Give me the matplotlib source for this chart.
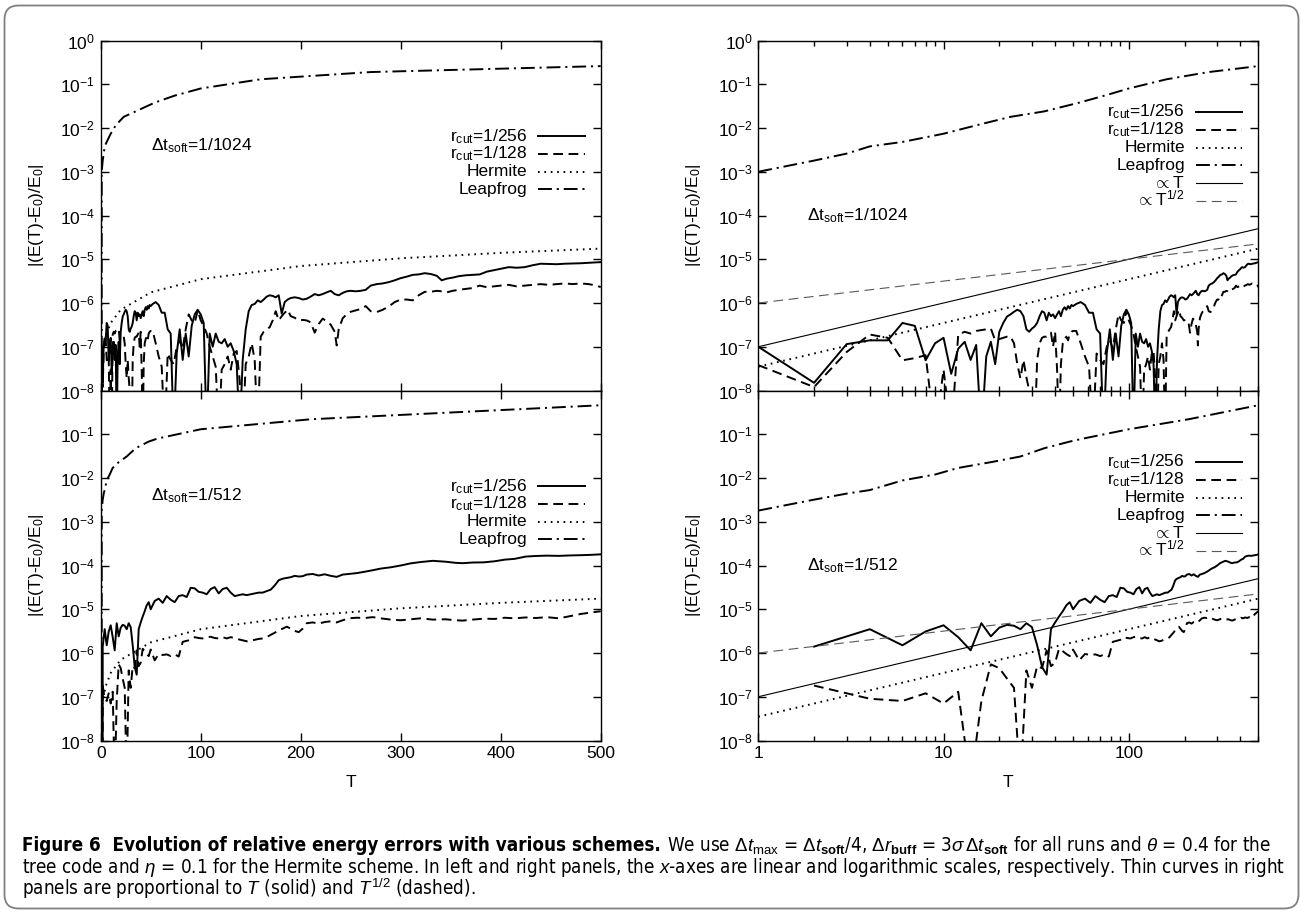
import numpy as np
import matplotlib
matplotlib.use('Agg')
import matplotlib.pyplot as plt
import matplotlib.ticker as mticker
from matplotlib import font_manager
from matplotlib.lines import Line2D
from matplotlib.patches import FancyBboxPatch
from matplotlib.transforms import IdentityTransform

plt.rcParams['font.family'] = ['Liberation Sans', 'DejaVu Sans']
plt.rcParams['mathtext.fontset'] = 'custom'
plt.rcParams['mathtext.rm'] = 'Liberation Sans'
plt.rcParams['mathtext.it'] = 'Liberation Sans:italic'
plt.rcParams['mathtext.bf'] = 'Liberation Sans:bold'
plt.rcParams['mathtext.sf'] = 'Liberation Sans'
plt.rcParams['lines.scale_dashes'] = False
plt.rcParams['axes.linewidth'] = 1.0

# ---------------- data ----------------
# dt_soft = 1/1024 : sampled every 1 up to T=50, then every 3 up to 178, then tail
t_1024 = np.r_[np.arange(0, 51), np.arange(52, 179, 3),
               [181, 184, 187, 190, 194, 198, 202, 206, 210, 214,
                218, 222, 226, 230, 234, 236, 238, 242, 246, 250,
                255, 260, 265, 270, 276, 282, 288, 294, 300, 306,
                312, 318, 324, 330, 336, 341, 346, 352, 358, 365,
                372, 379, 386, 393, 400, 408, 416, 424, 432, 440,
                448, 456, 464, 472, 480, 488, 496, 500]]

r256_1024 = [
    0, 1.0e-7, 1.5e-8, 1.15e-7, 1.4e-7, 1.4e-7, 3.5e-7, 3.0e-7, 4.9e-8, 1.2e-7, 1.6e-7,
    2.4e-8, 9e-8, 1.3e-7, 5e-8, 1.1e-7, 1e-9, 6e-8, 1.3e-7, 4e-8, 2.2e-7,
    3.5e-7, 4.9e-7, 5.5e-7, 6.3e-7, 7.0e-7, 6.5e-7, 5e-7, 2.5e-7, 2.2e-7, 2.6e-7,
    2.9e-7, 3.5e-7, 5e-7, 6.5e-7, 6e-7, 4e-7, 6e-7, 5e-7, 5.5e-7, 4.5e-7,
    5.5e-7, 6.5e-7, 5e-7, 7e-7, 8e-7, 7e-7, 8.5e-7, 7.5e-7, 9e-7, 8.5e-7,
    9.5e-7, 1.05e-6, 9e-7, 6e-7, 6e-7, 2.5e-7, 2e-7, 1e-9, 7e-8, 2.5e-7,
    5e-8, 2e-7, 6e-8, 3e-7, 5.5e-7, 7e-7, 5.5e-7, 3.5e-7, 1e-9, 2e-7,
    1e-7, 2e-7, 1.3e-7, 1.2e-7, 1.5e-7, 1e-7, 1.2e-7, 8e-8, 4e-8, 1e-9,
    5e-8, 2.5e-7, 6.5e-7, 9e-7, 9.5e-7, 1.15e-6, 1.05e-6, 1.2e-6, 1.4e-6, 1.5e-6,
    1.45e-6, 1.35e-6, 1.5e-6,
    5.7e-7, 1.05e-6, 1.2e-6, 1.3e-6, 1.35e-6, 1.3e-6, 1.2e-6, 1.25e-6, 1.4e-6, 1.6e-6,
    1.5e-6, 1.6e-6, 1.75e-6, 1.9e-6, 1.6e-6, 1.55e-6, 1.5e-6, 1.7e-6, 1.85e-6, 1.9e-6,
    1.85e-6, 1.9e-6, 2.0e-6, 2.5e-6, 2.7e-6, 2.8e-6, 3.0e-6, 3.3e-6, 3.7e-6, 4.0e-6,
    4.4e-6, 4.5e-6, 4.8e-6, 4.6e-6, 4.2e-6, 3.3e-6, 3.6e-6, 3.8e-6, 4.1e-6, 4.3e-6,
    4.4e-6, 4.5e-6, 5.2e-6, 5.6e-6, 6.0e-6, 6.6e-6, 6.4e-6, 6.6e-6, 7.3e-6, 7.9e-6,
    7.8e-6, 7.7e-6, 7.9e-6, 8.0e-6, 8.1e-6, 8.3e-6, 8.5e-6, 8.6e-6]

r128_1024 = [
    0, 3.8e-8, 1.2e-8, 7.6e-8, 1.9e-7, 1.6e-7, 4.9e-8, 5.5e-8, 6.4e-8, 1e-9, 3e-8,
    1e-9, 1.9e-7, 2.2e-7, 2e-7, 2.3e-7, 2.4e-7, 2.5e-7, 2.6e-7, 1.4e-7, 1.5e-7,
    1.6e-7, 1.7e-7, 1.7e-7, 1.2e-7, 4e-8, 1.9e-8, 5e-8, 2e-8, 1e-8, 1e-9,
    1e-9, 5e-8, 1.2e-7, 1.6e-7, 1.7e-7, 1.7e-7, 1.9e-7, 2.1e-7, 1e-7, 2.2e-7,
    3e-8, 1e-9, 4e-8, 1.2e-7, 1.5e-7, 1.7e-7, 1.4e-7, 2e-7, 2.2e-7, 2.3e-7,
    2.3e-7, 1.2e-7, 6e-8, 3.5e-8, 1e-9, 7e-8, 5e-8, 4e-8, 1e-7, 1.4e-7,
    9e-8, 2.5e-7, 5.5e-7, 4e-7, 3.5e-7, 6.8e-7, 4e-7, 3e-7, 2e-7, 1e-7,
    6e-8, 3.5e-8, 1e-9, 3e-8, 4e-8, 6e-8, 3e-8, 7e-8, 8e-8, 1.7e-8,
    1e-9, 4e-8, 6e-8, 1.2e-7, 5e-8, 1e-9, 1.7e-7, 2.2e-7, 2.5e-7, 2.8e-7,
    4e-7, 6.5e-7, 4e-7,
    5e-7, 6e-7, 7e-7, 5e-7, 4.6e-7, 4e-7, 4.1e-7, 4e-7, 3.6e-7, 2.1e-7,
    3.3e-7, 4.4e-7, 3.8e-7, 3.2e-7, 2.2e-7, 1.07e-7, 2.5e-7, 4.5e-7, 5.5e-7, 6.3e-7,
    6.8e-7, 7.3e-7, 8.5e-7, 6.5e-7, 6.2e-7, 7e-7, 8.3e-7, 1.05e-6, 1.2e-6, 1.2e-6,
    1.15e-6, 1.5e-6, 1.8e-6, 1.8e-6, 1.9e-6, 1.85e-6, 1.75e-6, 1.9e-6, 2.0e-6, 2.1e-6,
    2.2e-6, 2.5e-6, 2.3e-6, 2.4e-6, 2.5e-6, 2.6e-6, 2.4e-6, 2.5e-6, 2.6e-6, 2.7e-6,
    2.6e-6, 2.7e-6, 2.8e-6, 2.7e-6, 2.8e-6, 2.7e-6, 2.5e-6, 2.3e-6]

# dt_soft = 1/512 : sampled every 2 up to T=50, then every 4 up to 178, then tail
t_512 = np.r_[np.arange(0, 51, 2), np.arange(54, 179, 4),
              [182, 186, 190, 194, 198, 202, 206, 212, 218, 224,
               230, 236, 242, 248, 256, 264, 272, 280, 290, 300,
               310, 320, 332, 345, 355, 362, 372, 383, 394, 404,
               414, 425, 435, 446, 458, 470, 480, 490, 500]]

r256_512 = [
    0, 1.4e-6, 3.5e-6, 1.5e-6, 3.1e-6, 4.3e-6, 2.3e-6, 1.15e-6, 4.8e-6, 2.4e-6,
    3.8e-6, 4.4e-6, 4.2e-6, 3.5e-6, 4.8e-6, 3.9e-6, 1.5e-6, 4.8e-7, 3.2e-7, 3.5e-6,
    5.0e-6, 6.8e-6, 9.0e-6, 1.23e-5, 1.45e-5, 1.0e-5,
    1.55e-5, 1.75e-5, 1.4e-5, 2.0e-5, 1.65e-5, 1.45e-5, 2.0e-5, 2.1e-5, 1.9e-5, 3.1e-5,
    3.0e-5, 2.5e-5, 2.4e-5, 2.2e-5, 2.9e-5, 3.2e-5, 2.3e-5, 2.9e-5, 3.1e-5, 2.4e-5,
    2.0e-5, 2.1e-5, 2.2e-5, 2.1e-5, 2.2e-5, 2.3e-5, 2.4e-5, 2.4e-5, 2.6e-5, 2.8e-5,
    3.5e-5, 4.6e-5,
    5.0e-5, 5.2e-5, 5.4e-5, 5.8e-5, 5.6e-5, 5.7e-5, 6.2e-5, 6.4e-5, 5.9e-5, 6.3e-5,
    5.8e-5, 5.5e-5, 6.2e-5, 6.4e-5, 6.7e-5, 7.2e-5, 7.8e-5, 8.5e-5, 9.1e-5, 1.0e-4,
    1.12e-4, 1.2e-4, 1.28e-4, 1.22e-4, 1.15e-4, 1.13e-4, 1.17e-4, 1.18e-4, 1.25e-4, 1.36e-4,
    1.42e-4, 1.6e-4, 1.65e-4, 1.68e-4, 1.66e-4, 1.7e-4, 1.72e-4, 1.75e-4, 1.8e-4]

r128_512 = [
    0, 1.8e-7, 9e-8, 8e-8, 1.2e-7, 7e-8, 1.3e-7, 1e-9, 8e-8, 5.5e-7,
    4.5e-7, 2.6e-7, 1.6e-7, 1e-9, 4e-7, 1.6e-7, 5e-7, 4.5e-7, 1.15e-6, 5e-7,
    6e-7, 1.25e-6, 1.1e-6, 9.5e-7, 8.5e-7, 1.2e-6,
    6.8e-7, 9.5e-7, 9e-7, 9.3e-7, 8.5e-7, 9.3e-7, 8.3e-7, 1.8e-6, 1.9e-6, 2.0e-6,
    2.3e-6, 2.2e-6, 2.15e-6, 2.3e-6, 2.35e-6, 2.2e-6, 2.15e-6, 2.3e-6, 2.15e-6, 2.3e-6,
    2.2e-6, 2.05e-6, 1.95e-6, 1.85e-6, 1.9e-6, 2.0e-6, 2.1e-6, 2.15e-6, 2.3e-6, 2.6e-6,
    2.9e-6, 3.3e-6,
    3.6e-6, 4.0e-6, 3.6e-6, 3.2e-6, 3.0e-6, 3.6e-6, 4.8e-6, 5.0e-6, 4.7e-6, 5.1e-6,
    5.3e-6, 5.0e-6, 5.6e-6, 6.2e-6, 6.4e-6, 6.3e-6, 6.6e-6, 6.2e-6, 5.8e-6, 5.6e-6,
    5.9e-6, 6.2e-6, 5.8e-6, 5.9e-6, 5.6e-6, 5.5e-6, 5.8e-6, 6.1e-6, 6.0e-6, 6.4e-6,
    6.2e-6, 6.5e-6, 6.3e-6, 6.6e-6, 6.2e-6, 7.0e-6, 7.8e-6, 8.4e-6, 9.0e-6]

# Hermite (same in both rows)
t_herm = [0, 1, 2, 3, 5, 10, 20, 50, 100, 200, 300, 400, 500]
herm = [0, 3.5e-8, 7e-8, 1.05e-7, 1.75e-7, 3.5e-7, 7e-7, 1.75e-6, 3.5e-6, 7e-6,
        1.05e-5, 1.4e-5, 1.75e-5]

# Leapfrog
t_leap_1024 = [0, 1, 2, 3, 4, 6, 10, 15, 23, 35, 54, 74, 100, 160, 270, 500]
leap_1024 = [0, 1.0e-3, 1.8e-3, 2.6e-3, 3.8e-3, 4.8e-3, 7.4e-3, 1.15e-2, 1.8e-2,
             2.4e-2, 3.8e-2, 5.5e-2, 8.0e-2, 0.13, 0.19, 0.26]
t_leap_512 = [0, 1, 2, 3, 4, 6, 9, 12, 18, 26, 35, 48, 57, 100, 210, 500]
leap_512 = [0, 1.8e-3, 3.2e-3, 4.4e-3, 5.3e-3, 8.8e-3, 1.2e-2, 1.7e-2, 2.3e-2,
            3.1e-2, 4.8e-2, 6.8e-2, 8e-2, 0.13, 0.22, 0.46]

# thin guide curves of the right panels
t_guide = [1, 500]
prop_t = [1e-7, 5e-5]
prop_sqrt = [1e-6, 2.24e-5]

rows = [('1/1024', t_1024, r256_1024, r128_1024, t_leap_1024, leap_1024),
        ('1/512', t_512, r256_512, r128_512, t_leap_512, leap_512)]

# ---------------- styles ----------------
FS = 12.5
s_solid = dict(color='k', lw=1.4, ls='-')
s_dash = dict(color='k', lw=1.4, ls=(0, (7, 4)))
s_dot = dict(color='k', lw=1.4, ls=(0, (1.2, 3.4)))
s_dd = dict(color='k', lw=1.4, ls=(0, (10, 3.5, 1.5, 3.5)))
s_thin = dict(color='k', lw=0.8, ls='-')
s_thin_dash = dict(color='0.35', lw=0.8, ls=(0, (7, 4)))

W, H = 1303, 914
fig = plt.figure(figsize=(W / 100, H / 100), dpi=100)


def box(x0, y0, x1, y1):
    return [x0 / W, 1 - y1 / H, (x1 - x0) / W, (y1 - y0) / H]


axes = {
    (0, 0): fig.add_axes(box(100.7, 40.5, 600.7, 390.5)),
    (1, 0): fig.add_axes(box(100.7, 390.5, 600.7, 740.5)),
    (0, 1): fig.add_axes(box(758.3, 40.5, 1258.3, 390.5)),
    (1, 1): fig.add_axes(box(758.3, 390.5, 1258.3, 740.5)),
}


def style(ax, logx, bottom):
    ax.set_yscale('log')
    ax.set_ylim(1e-8, 1)
    if logx:
        ax.set_xscale('log')
        ax.set_xlim(1, 500)
        ax.xaxis.set_major_locator(mticker.FixedLocator([1, 10, 100]))
        ax.xaxis.set_minor_locator(mticker.LogLocator(base=10, subs=np.arange(2, 10)))
        ax.xaxis.set_major_formatter(mticker.FormatStrFormatter('%d'))
        ax.xaxis.set_minor_formatter(mticker.NullFormatter())
    else:
        ax.set_xlim(0, 500)
        ax.set_xticks(range(0, 501, 100))
    top_exp = -1 if bottom else 0
    ax.yaxis.set_major_locator(mticker.FixedLocator([10.0 ** k for k in range(-8, top_exp + 1)]))
    ax.yaxis.set_minor_locator(mticker.NullLocator())
    ax.yaxis.set_major_formatter(mticker.LogFormatterSciNotation())
    ax.tick_params(which='both', direction='in', top=True, right=True,
                   labelsize=FS, width=1.0)
    ax.tick_params(which='major', length=6, pad=4)
    ax.tick_params(which='minor', length=3.5)
    if bottom:
        ax.set_xlabel('T', fontsize=FS, labelpad=10)
    else:
        ax.tick_params(labelbottom=False)
    ax.set_ylabel(r'|(E(T)-E$_0$)/E$_0$|', fontsize=FS)
    ax.yaxis.set_label_coords(-0.11, 0.5)


def legend(ax, entries, y0):
    for i, (label, st) in enumerate(entries):
        y = y0 - i * 0.0505
        ax.text(0.853, y - 0.013, label, transform=ax.transAxes, ha='right',
                va='baseline', fontsize=FS)
        ax.add_line(Line2D([0.875, 0.968], [y, y], transform=ax.transAxes, **st))


for r, (dt, t, a256, a128, tl, lf) in enumerate(rows):
    for c in range(2):
        ax = axes[(r, c)]
        style(ax, logx=(c == 1), bottom=(r == 1))
        t = np.asarray(t, float)
        tl_ = np.asarray(tl, float)
        th = np.asarray(t_herm, float)
        a256_ = np.asarray(a256, float)
        a128_ = np.asarray(a128, float)
        lf_ = np.asarray(lf, float)
        hm = np.asarray(herm, float)
        if c == 1:
            m, ml, mh = t > 0, tl_ > 0, th > 0
        else:
            m = np.ones_like(t, bool)
            ml = np.ones_like(tl_, bool)
            mh = np.ones_like(th, bool)
        ax.plot(tl_[ml], lf_[ml], **s_dd)
        ax.plot(th[mh], hm[mh], **s_dot)
        ax.plot(t[m], a128_[m], **s_dash)
        ax.plot(t[m], a256_[m], **s_solid)
        entries = [(r'r$_{\rm cut}$=1/256', s_solid),
                   (r'r$_{\rm cut}$=1/128', s_dash),
                   ('Hermite', s_dot),
                   ('Leapfrog', s_dd)]
        if c == 1:
            ax.plot(t_guide, prop_t, **s_thin)
            ax.plot(t_guide, prop_sqrt, **s_thin_dash)
            entries += [(r'$\propto$T', s_thin), (r'$\propto$T$^{1/2}$', s_thin_dash)]
            legend(ax, entries, 0.795)
            ax.text(0.097, 0.5 - 0.013, r'$\mathit{\Delta}$t$_{\rm soft}$=' + dt,
                    transform=ax.transAxes, fontsize=FS, va='baseline')
        else:
            legend(ax, entries, 0.726)
            ax.text(0.101, 0.70 - 0.013, r'$\mathit{\Delta}$t$_{\rm soft}$=' + dt,
                    transform=ax.transAxes, fontsize=FS, va='baseline')

# ---------------- frame and caption ----------------
fig.add_artist(FancyBboxPatch((4.5, 5.5), W - 9, H - 11,
                              boxstyle='round,pad=0,rounding_size=14',
                              transform=IdentityTransform(), fc='none',
                              ec='#808080', lw=1.3))

fl = font_manager.fontManager.ttflist
names = {f.name for f in fl}
if 'Liberation Sans Narrow' in names:
    cap_kw = dict(family=['Liberation Sans Narrow'])
elif any(f.name == 'DejaVu Sans' and 'condensed' in str(f.stretch) for f in fl):
    cap_kw = dict(family=['DejaVu Sans'], fontstretch='condensed')
elif 'Roboto' in names:
    cap_kw = dict(family=['Roboto'])
else:
    cap_kw = dict(family=['DejaVu Sans'])

bold1 = 'Figure 6  Evolution of relative energy errors with various schemes.'
rest1 = (r'We use $\Delta t_{\rm max}$ = $\Delta t_{\mathbf{soft}}$/4, '
         r'$\Delta r_{\mathbf{buff}}$ = 3$\sigma\,\Delta t_{\mathbf{soft}}$ for all runs '
         r'and $\theta$ = 0.4 for the')
line2 = (r'tree code and $\eta$ = 0.1 for the Hermite scheme. In left and right panels, '
         r'the $x$-axes are linear and logarithmic scales, respectively. Thin curves in right')
line3 = r'panels are proportional to $T$ (solid) and $T^{1/2}$ (dashed).'

x0, x1 = 22, 1283
base_y = [851, 873, 895]
renderer = fig.canvas.get_renderer()
probe = fig.text(0, 0, line2, fontsize=12, **cap_kw)
wpx = probe.get_window_extent(renderer).width
probe.remove()
cfs = 12 * (x1 - x0) / wpx

tb = fig.text(x0 / W, 1 - base_y[0] / H, bold1, fontsize=cfs, fontweight='bold',
              va='baseline', **cap_kw)
wb = tb.get_window_extent(renderer).width
fig.text((x0 + wb + 6) / W, 1 - base_y[0] / H, rest1, fontsize=cfs, va='baseline', **cap_kw)
fig.text(x0 / W, 1 - base_y[1] / H, line2, fontsize=cfs, va='baseline', **cap_kw)
fig.text(x0 / W, 1 - base_y[2] / H, line3, fontsize=cfs, va='baseline', **cap_kw)

fig.savefig('out.png', dpi=100)
